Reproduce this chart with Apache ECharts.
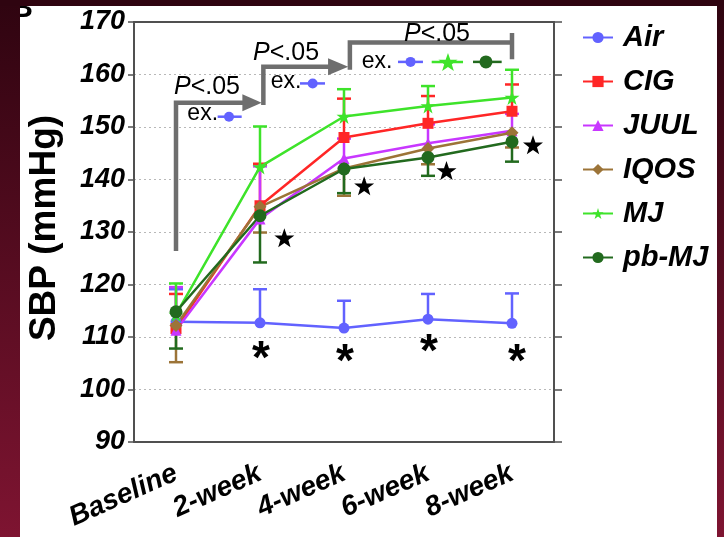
<!DOCTYPE html>
<html><head><meta charset="utf-8">
<script src="https://cdn.jsdelivr.net/npm/echarts@6/dist/echarts.min.js"></script>
<style>html,body{margin:0;padding:0;background:#fff}#c{width:724px;height:537px}</style>
</head><body><div id="c"></div>
<script>
// ---- data ----
const categories = ['Baseline', '2-week', '4-week', '6-week', '8-week'];
const yTicks = [90, 100, 110, 120, 130, 140, 150, 160, 170];
const seriesNames = ['Air', 'CIG', 'JUUL', 'IQOS', 'MJ', 'pb-MJ'];
const air       = [112.9, 112.7, 111.7, 113.4, 112.6];
const airUpper  = [119.1, 119.1, 116.9, 118.2, 118.3];
const cig       = [111.6, 135.0, 148.0, 150.7, 153.0];
const cigUpper  = [118.2, 143.0, 155.4, 155.9, 158.1];
const juul      = [111.3, 132.5, 144.0, 146.9, 149.3];
const juulUpper = [119.5, 142.5, 147.8, 150.5, 152.5];
const iqos      = [112.2, 134.8, 142.1, 145.9, 148.9];
const iqosLower = [105.2, 129.9, 136.9, 142.9, 146.1];
const mj        = [114.3, 142.4, 152.0, 154.0, 155.6];
const mjUpper   = [120.2, 150.1, 157.2, 157.8, 160.9];
const pbmj      = [114.8, 133.1, 142.0, 144.2, 147.2];
const pbmjLower = [107.8, 124.2, 137.4, 140.7, 143.4];
// significance marks (category position, value)
const starMarks = [[1.29, 128.9], [2.24, 138.8], [3.22, 141.7], [4.25, 146.6]];
const asteriskMarks = [[1.01, 107.5], [2.01, 106.9], [3.01, 108.8], [4.06, 106.9]];

const FONT = "'Liberation Sans', Arial, Helvetica, sans-serif";
const C = {air:'#6262ff', cig:'#ff2626', juul:'#c837ff', iqos:'#9c7438', mj:'#3ee32a', pbmj:'#226a1e'};
const STAR = 'path://M50,0 L61,36 L98,36 L68,58 L79,94 L50,72 L21,94 L32,58 L2,36 L39,36 Z';

function lineSeries(name, data, color, symbol, size) {
  return {type:'line', name, data, symbol, symbolSize:size, showSymbol:true,
    lineStyle:{color, width:2.5}, itemStyle:{color}, z:3, animation:false};
}
function errSeries(means, bounds, color) {
  return {type:'custom', silent:true, animation:false, z:2,
    data: means.map((m, i) => [i, m, bounds[i]]),
    encode:{x:0, y:[1, 2]},
    renderItem(params, api) {
      const p1 = api.coord([api.value(0), api.value(1)]);
      const p2 = api.coord([api.value(0), api.value(2)]);
      return {type:'group', children:[
        {type:'line', shape:{x1:p1[0], y1:p1[1], x2:p2[0], y2:p2[1]}, style:{stroke:color, lineWidth:2.5}},
        {type:'line', shape:{x1:p2[0]-7, y1:p2[1], x2:p2[0]+7, y2:p2[1]}, style:{stroke:color, lineWidth:2.5}}
      ]};
    }};
}

const axisCol = '#505050';
const chart = echarts.init(document.getElementById('c'), null, {renderer:'canvas'});
const baseX = {type:'category', data:categories, boundaryGap:true, gridIndex:0};
chart.setOption({
  backgroundColor: new echarts.graphic.LinearGradient(0, 0, 0, 1, [
    {offset:0, color:'#2f0410'}, {offset:1, color:'#7e1431'}]),
  animation:false,
  grid:{left:134, right:170, top:22, bottom:95, containLabel:false},
  legend:{data:seriesNames, orient:'vertical', left:577, top:18, itemWidth:30, itemHeight:14, itemGap:15,
    textStyle:{fontSize:29, fontWeight:'bold', fontStyle:'italic', fontFamily:FONT, color:'#000', padding:[0,0,0,5]}},
  xAxis:[
    Object.assign({}, baseX, {position:'bottom',
      axisLine:{lineStyle:{color:axisCol, width:2}},
      axisTick:{alignWithLabel:true, length:4, lineStyle:{color:axisCol, width:1.5}},
      axisLabel:{interval:0, hideOverlap:false, rotate:24, margin:30, fontSize:28, fontWeight:'bold', fontStyle:'italic', fontFamily:FONT, color:'#000'},
      splitLine:{show:false}}),
    Object.assign({}, baseX, {position:'bottom', axisLine:{show:false},
      axisTick:{alignWithLabel:true, inside:true, length:3, lineStyle:{color:axisCol, width:1.5}},
      axisLabel:{show:false}, splitLine:{show:false}}),
    Object.assign({}, baseX, {position:'top',
      axisLine:{lineStyle:{color:axisCol, width:2}},
      axisTick:{alignWithLabel:true, length:4, lineStyle:{color:axisCol, width:1.5}},
      axisLabel:{show:false}, splitLine:{show:false}}),
    Object.assign({}, baseX, {position:'top', axisLine:{show:false},
      axisTick:{alignWithLabel:true, inside:true, length:4, lineStyle:{color:axisCol, width:1.5}},
      axisLabel:{show:false}, splitLine:{show:false}})
  ],
  yAxis:[
    {type:'value', position:'left', min:yTicks[0], max:yTicks[yTicks.length-1], interval:10,
      axisLine:{show:true, lineStyle:{color:axisCol, width:2}},
      axisTick:{show:true, length:6, lineStyle:{color:axisCol, width:1.5}},
      axisLabel:{margin:9, fontSize:27, fontWeight:'bold', fontStyle:'italic', fontFamily:FONT, color:'#000'},
      splitLine:{show:true, lineStyle:{color:'#b8b8b8', type:[2,3], width:1.2}}},
    {type:'value', position:'right', min:yTicks[0], max:yTicks[yTicks.length-1], interval:10,
      axisLine:{show:true, lineStyle:{color:axisCol, width:2}},
      axisTick:{show:true, length:8, lineStyle:{color:axisCol, width:1.5}},
      axisLabel:{show:false}, splitLine:{show:false}}
  ],
  series:[
    errSeries(air, airUpper, C.air),
    lineSeries('Air', air, C.air, 'circle', 11),
    errSeries(cig, cigUpper, C.cig),
    lineSeries('CIG', cig, C.cig, 'rect', 11),
    errSeries(juul, juulUpper, C.juul),
    lineSeries('JUUL', juul, C.juul, 'triangle', 11),
    errSeries(iqos, iqosLower, C.iqos),
    lineSeries('IQOS', iqos, C.iqos, 'diamond', 13),
    errSeries(mj, mjUpper, C.mj),
    lineSeries('MJ', mj, C.mj, STAR, 15),
    errSeries(pbmj, pbmjLower, C.pbmj),
    lineSeries('pb-MJ', pbmj, C.pbmj, 'circle', 13)
  ]
});

// ---- annotations placed through the axes' scales ----
const a0 = chart.convertToPixel({gridIndex:0}, [0, 90]);
const a4 = chart.convertToPixel({gridIndex:0}, [4, 170]);
function P(c, v) { return [a0[0] + c * (a4[0] - a0[0]) / 4, a0[1] + (v - 90) * (a4[1] - a0[1]) / 80]; }
const gray = '#6e6e6e';
const els = [];
const frameGrad = () => new echarts.graphic.LinearGradient(0,0,0,1,[{offset:0,color:'#2f0410'},{offset:1,color:'#7e1431'}]);
els.push({type:'rect', z:-10, shape:{x:20, y:6, width:697, height:531}, style:{fill:'#fff'}, silent:true});
els.push({type:'text', z:-9, x:33, y:9, style:{text:'B', font:"bold 30px " + FONT, fill:'#000', align:'right', verticalAlign:'middle'}, silent:true});
els.push({type:'rect', z:-8, shape:{x:0, y:0, width:20, height:537}, style:{fill:frameGrad()}, silent:true});
els.push({type:'rect', z:-8, shape:{x:0, y:0, width:724, height:6}, style:{fill:'#2f0410'}, silent:true});

function poly(points) {
  return {type:'polyline', shape:{points:points.map(p => P(p[0], p[1]))},
    style:{stroke:gray, lineWidth:4.5, fill:null, lineJoin:'miter'}, silent:true, z:50};
}
function head(cBase, cTip, v) {
  const b = P(cBase, v), t = P(cTip, v);
  return {type:'polygon', shape:{points:[[b[0], b[1]-8.5], [t[0], t[1]], [b[0], b[1]+8.5]]}, style:{fill:gray}, silent:true, z:50};
}
els.push(poly([[0,126.4],[0,154.6],[0.8,154.6]]));
els.push(head(0.79, 1.02, 154.6));
els.push(poly([[1.04,154.2],[1.04,161.5],[1.82,161.5]]));
els.push(head(1.81, 2.05, 161.5));
els.push(poly([[2.07,160.9],[2.07,166.1],[4,166.1]]));
els.push(poly([[4,167.9],[4,162.9]]));

function txt(c, v, rich, size) {
  const p = P(c, v);
  return {type:'text', x:p[0], y:p[1], silent:true, z:51,
    style:{text:rich, fill:'#000', font:size + 'px ' + FONT, align:'center', verticalAlign:'middle',
      rich:{i:{fontStyle:'italic', fontSize:size, fontFamily:FONT, fill:'#000'}}}};
}
els.push(txt(0.369, 157.6, '{i|P}<.05', 25));
els.push(txt(1.31, 164.1, '{i|P}<.05', 25));
els.push(txt(3.107, 167.7, '{i|P}<.05', 25));
els.push(txt(0.318, 152.5, 'ex.', 23));
els.push(txt(1.31, 158.6, 'ex.', 23));
els.push(txt(2.393, 162.4, 'ex.', 23));

function starPoints(cx, cy, R, r) {
  const pts = [];
  for (let k = 0; k < 10; k++) {
    const ang = -Math.PI / 2 + k * Math.PI / 5;
    const rr = k % 2 === 0 ? R : r;
    pts.push([cx + rr * Math.cos(ang), cy + rr * Math.sin(ang)]);
  }
  return pts;
}
function legSym(c1, c2, cm, v, color, kind) {
  const p1 = P(c1, v), p2 = P(c2, v), pm = P(cm, v);
  els.push({type:'line', shape:{x1:p1[0], y1:p1[1], x2:p2[0], y2:p2[1]}, style:{stroke:color, lineWidth:2.5}, silent:true, z:51});
  if (kind === 'star') {
    els.push({type:'polygon', shape:{points:starPoints(pm[0], pm[1] + 1, 10, 4)}, style:{fill:color}, silent:true, z:52});
  } else {
    els.push({type:'circle', shape:{cx:pm[0], cy:pm[1], r:kind === 'big' ? 6.5 : 5}, style:{fill:color}, silent:true, z:52});
  }
}
legSym(0.496, 0.782, 0.631, 151.96, C.air, 'c');
legSym(1.476, 1.774, 1.627, 158.3, C.air, 'c');
legSym(2.643, 2.94, 2.792, 162.4, C.air, 'c');
legSym(3.044, 3.417, 3.238, 162.4, C.mj, 'star');
legSym(3.536, 3.877, 3.69, 162.4, C.pbmj, 'big');

starMarks.forEach(s => {
  const p = P(s[0], s[1]);
  els.push({type:'polygon', shape:{points:starPoints(p[0], p[1] + 1, 10.5, 4.2)}, style:{fill:'#000'}, silent:true, z:51});
});
asteriskMarks.forEach(s => {
  const p = P(s[0], s[1]);
  els.push({type:'text', x:p[0], y:p[1] + 10, silent:true, z:51,
    style:{text:'*', font:"bold 46px " + FONT, fill:'#000', align:'center', verticalAlign:'middle'}});
});
els.push({type:'text', x:45, y:228, rotation:Math.PI/2, silent:true, z:51,
  style:{text:'SBP (mmHg)', font:"bold 37px " + FONT, fill:'#000', align:'center', verticalAlign:'middle'}});

chart.setOption({graphic:{elements:els}});
</script>
</body></html>
